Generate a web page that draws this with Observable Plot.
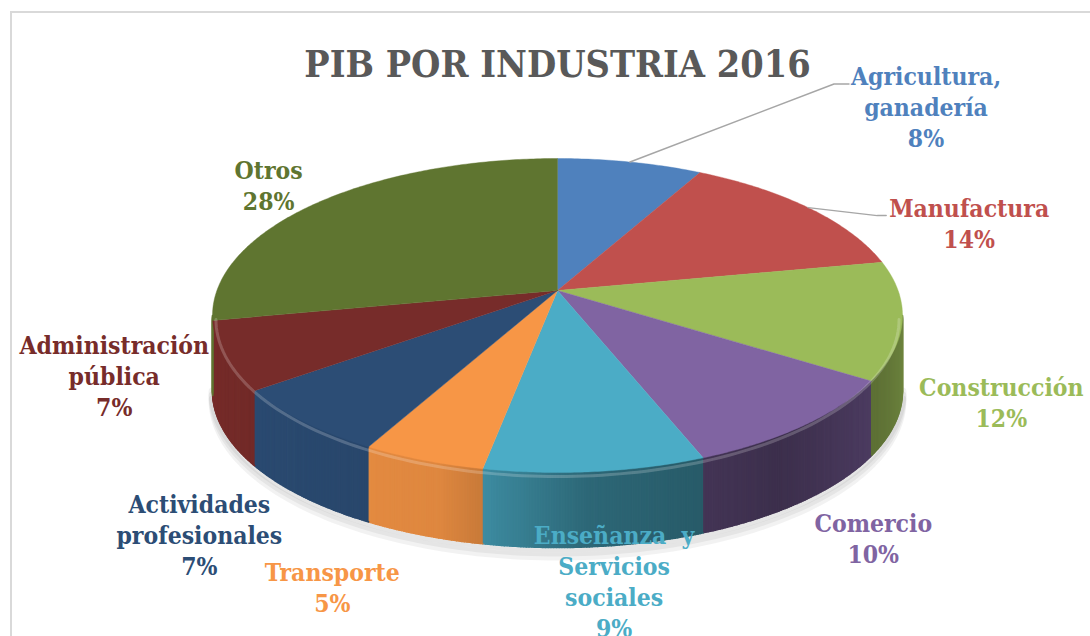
<!DOCTYPE html>
<html><head><meta charset="utf-8">
<script src="https://cdn.jsdelivr.net/npm/d3@7"></script>
<script src="https://cdn.jsdelivr.net/npm/@observablehq/plot@0.6"></script>
<style>
body{margin:0;background:#fff;}
#wrap{position:relative;width:1090px;height:636px;overflow:hidden;background:#fff;}
#frame{position:absolute;left:10px;top:11px;width:1200px;height:700px;border-left:2px solid #d9d9d9;border-top:2px solid #d9d9d9;}
#chart{position:absolute;left:0;top:0;}
</style></head><body>
<div id="wrap"><div id="frame"></div><div id="chart"></div></div>
<script>
// ---- data ----
const categories = ["Agricultura,\nganadería", "Manufactura", "Construcción", "Comercio", "Enseñanza\u00a0\u00a0y\nServicios\nsociales", "Transporte", "Actividades\nprofesionales", "Administración\npública", "Otros"];
const values = [8, 14, 12, 10, 9, 5, 7, 7, 28];
const colors = ["#4F81BD", "#C0504D", "#9BBB59", "#8064A2", "#4BACC6", "#F79646", "#2C4D75", "#772C2A", "#5F7530"];
const titleText = "PIB POR INDUSTRIA 2016";

// ---- layout (3D pie projection) ----
const W = 1090, H = 636;
const cx = 557, cy = 315, rx = 345, ry = 157, apexLift = 25, depth = 75;
const labelNudge = [[296, -56], [161, 15], [99, 81], [70, 112], [19, 109], [-91, 126], [-104, 112], [-110, 19], [-52, -17]];
const leaderElbows = [[[-92, -22], [-77, -22]], [[-92, -7], [-83, -7]]];
const FONT = "'DejaVu Serif Condensed', 'DejaVu Serif', serif";
// side lighting profile (angle in degrees from top, clockwise -> brightness factor)
const lightAngles = [90, 140, 175, 200, 270];
const lightFactor = [0.72, 0.47, 0.6, 0.9, 1.0];

const total = d3.sum(values);
const a = apexLift / ry;
const apex = [cx, cy - apexLift];
const light = d3.scaleLinear().domain(lightAngles).range(lightFactor).clamp(true);
function rimT(theta) {
  const s = Math.sin(theta), c = Math.cos(theta);
  const t = -a * c + Math.sqrt(a * a * c * c - a * a + 1);
  return [cx + rx * s * t, apex[1] - ry * c * t];
}
function rimPhi(phi, dy = 0) { return [cx + rx * Math.sin(phi), cy - ry * Math.cos(phi) + dy]; }
function phiOf(theta) {
  const [x, y] = rimT(theta);
  let p = Math.atan2((x - cx) / rx, -(y - cy) / ry);
  if (p < 0) p += 2 * Math.PI;
  return p;
}

// slices
let acc = 0;
const slices = values.map((v, i) => {
  const t0 = acc / total * 2 * Math.PI; acc += v;
  const t1 = acc / total * 2 * Math.PI;
  let p0 = phiOf(t0), p1 = phiOf(t1);
  if (i === 0) p0 = 0;
  if (p1 <= p0) p1 += 2 * Math.PI;
  return {i, t0, t1, tm: (t0 + t1) / 2, p0, p1};
});

// top faces
const topRows = [];
for (const s of slices) {
  topRows.push({k: s.i, x: apex[0], y: apex[1], c: colors[s.i]});
  const n = Math.max(4, Math.ceil((s.p1 - s.p0) / 0.01));
  for (let j = 0; j <= n; j++) {
    const [x, y] = rimPhi(s.p0 + (s.p1 - s.p0) * j / n);
    topRows.push({k: s.i, x, y, c: colors[s.i]});
  }
  topRows.push({k: s.i, x: apex[0], y: apex[1], c: colors[s.i]});
}

// side strips (visible front half)
function shade(col, phi) {
  let deg = phi * 180 / Math.PI; if (deg > 360) deg -= 360;
  const f = light(deg);
  const c = d3.rgb(col);
  return d3.rgb(c.r * f, c.g * f, c.b * f).formatHex();
}
const sideRows = [];
let seg = 0;
for (const s of slices) {
  for (const off of [0, 2 * Math.PI]) {
    const lo = Math.max(s.p0, Math.PI / 2 + off), hi = Math.min(s.p1, 3 * Math.PI / 2 + off);
    if (hi <= lo) continue;
    const n = Math.max(1, Math.ceil((hi - lo) / 0.008));
    for (let j = 0; j < n; j++) {
      const q0 = lo + (hi - lo) * j / n, q1 = lo + (hi - lo) * (j + 1) / n;
      const col = shade(colors[s.i], (q0 + q1) / 2);
      const pts = [rimPhi(q0), rimPhi(q1), rimPhi(q1, depth), rimPhi(q0, depth)];
      for (const [x, y] of pts) sideRows.push({k: seg, x, y, c: col});
      seg++;
    }
  }
}

// shadow & rim highlight
const shadowRows = [], hiRows = [];
for (let j = 0; j <= 120; j++) {
  const phi = Math.PI / 2 + Math.PI * j / 120;
  for (const [k, d] of [[0, 4], [1, 8], [2, 12]]) {
    const [x, y] = rimPhi(phi, depth + d - 3);
    shadowRows.push({k, x, y});
  }
  const [x, y] = rimPhi(phi, 4);
  hiRows.push({x: cx + (x - cx) * 0.99, y});
}

// labels
const labelRows = slices.map(s => {
  const [x, y] = rimT(s.tm);
  return {i: s.i, ax: x, ay: y, x: x + labelNudge[s.i][0], y: y + labelNudge[s.i][1],
          text: categories[s.i] + "\n" + values[s.i] + "%", c: colors[s.i]};
});
const leaderRows = [];
leaderElbows.forEach((el, i) => {
  const L = labelRows[i];
  leaderRows.push({k: i, x: L.ax, y: L.ay});
  for (const [dx, dy] of el) leaderRows.push({k: i, x: L.x + dx, y: L.y + dy});
});

const chart = Plot.plot({
  width: W, height: H,
  margin: 0,
  x: {domain: [0, W], range: [0, W], axis: null},
  y: {domain: [0, H], range: [0, H], axis: null},
  color: {type: "identity"},
  style: {background: "transparent", fontStretch: "condensed"},
  marks: [
    Plot.line(shadowRows, {x: "x", y: "y", z: "k", stroke: "#000", strokeOpacity: 0.05, strokeWidth: 8, curve: "linear"}),
    Plot.line(sideRows, {x: "x", y: "y", z: "k", fill: "c", stroke: "c", strokeWidth: 1.6}),
    Plot.line(topRows, {x: "x", y: "y", z: "k", fill: "c", stroke: "c", strokeWidth: 0.4}),
    Plot.line(hiRows, {x: "x", y: "y", stroke: "#fff", strokeOpacity: 0.2, strokeWidth: 3}),
    Plot.line(leaderRows, {x: "x", y: "y", z: "k", stroke: "#a6a6a6", strokeWidth: 1.5}),
    Plot.text(labelRows, {x: "x", y: "y", text: "text", fill: "c", fontSize: 24.5, fontWeight: "bold", fontFamily: FONT, lineHeight: 1.27, lineAnchor: "middle", textAnchor: "middle"}),
    Plot.text([titleText], {x: () => cx, y: () => 76, text: d => d, fill: "#595959", fontSize: 37.5, fontWeight: "bold", fontFamily: FONT, lineAnchor: "bottom", textAnchor: "middle"})
  ]
});
document.getElementById("chart").appendChild(chart);
</script>
</body></html>
